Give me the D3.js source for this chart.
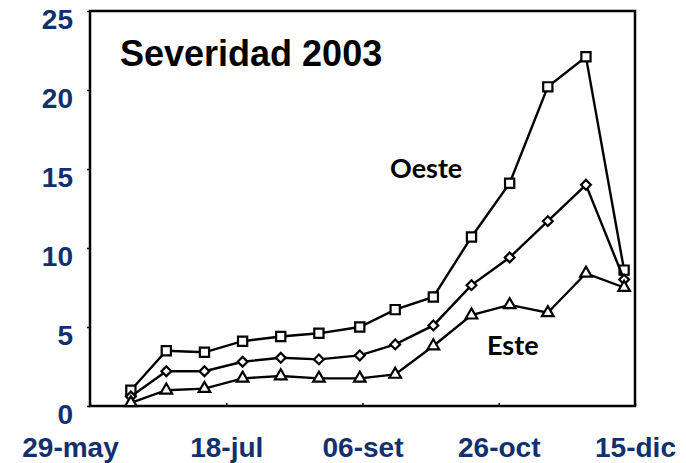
<!DOCTYPE html>
<html>
<head>
<meta charset="utf-8">
<script src="https://cdn.jsdelivr.net/npm/d3@7"></script>
<style>
  body { margin: 0; background: #fff; }
  svg { display: block; }
</style>
</head>
<body>
<svg></svg>
<script>
// Sampling dates (2003) and severity per zone
const dates = ["2003-06-13", "2003-06-26", "2003-07-10", "2003-07-24", "2003-08-07", "2003-08-21", "2003-09-05",
    "2003-09-18", "2003-10-02", "2003-10-16", "2003-10-30", "2003-11-13", "2003-11-27", "2003-12-11"];
const oeste = [1.0, 3.5, 3.4, 4.1, 4.4, 4.6, 5.0, 6.1, 6.9, 10.7, 14.1, 20.2, 22.1, 8.6];
const medio = [0.6, 2.2, 2.2, 2.8, 3.05, 2.95, 3.2, 3.9, 5.1, 7.65, 9.4, 11.7, 14.0, 8.0];
const este = [0.2, 1.0, 1.1, 1.75, 1.9, 1.75, 1.75, 2.0, 3.8, 5.75, 6.4, 5.9, 8.4, 7.5];

const yTicks = [0, 5, 10, 15, 20, 25];
const xTickDates = ["2003-05-29", "2003-07-18", "2003-09-06", "2003-10-26", "2003-12-15"];
const xTickLabels = ["29-may", "18-jul", "06-set", "26-oct", "15-dic"];

const parse = d3.utcParse("%Y-%m-%d");
const navy = "#10306e";

const svg = d3.select("svg").attr("width", 686).attr("height", 463),
    margin = { top: 11, right: 51, bottom: 57, left: 90 },
    width = 686 - margin.left - margin.right,
    height = 463 - margin.top - margin.bottom,
    g = svg.append("g").attr("transform", `translate(${margin.left},${margin.top})`);

const x = d3.scaleUtc().domain([parse(xTickDates[0]), parse(xTickDates[xTickDates.length - 1])]).range([0, width]);
const y = d3.scaleLinear().domain([0, 25]).range([height, 0]);

// Y axis
const yAxis = g.append("g")
    .call(d3.axisLeft(y).tickValues(yTicks).tickSize(3).tickPadding(14));
yAxis.select(".domain").remove();
yAxis.selectAll("line").attr("stroke", "#000").attr("stroke-width", 1.5);
yAxis.selectAll("text")
    .attr("dy", "0.61em")
    .attr("fill", navy)
    .style("font-family", "Arial, 'Liberation Sans', sans-serif")
    .style("font-weight", "bold")
    .style("font-size", "28px");

// X axis
const xAxis = g.append("g")
    .attr("transform", `translate(0,${height})`)
    .call(d3.axisBottom(x).tickValues(xTickDates.map(parse))
        .tickFormat((d, i) => xTickLabels[i]).tickSizeInner(-3).tickSizeOuter(0).tickPadding(31));
xAxis.select(".domain").remove();
xAxis.selectAll("line").attr("stroke", "#000").attr("stroke-width", 1.5);
xAxis.selectAll("text")
    .attr("dx", (d, i) => i === 0 ? -20 : 0)
    .attr("fill", navy)
    .style("font-family", "Arial, 'Liberation Sans', sans-serif")
    .style("font-weight", "bold")
    .style("font-size", "28px");

// Plot frame
g.append("rect")
    .attr("width", width).attr("height", height)
    .attr("fill", "none").attr("stroke", "#000").attr("stroke-width", 2.5);

// Series
const series = [
    { values: oeste, symbol: d3.symbolSquare, size: 85, rotate: 0 },
    { values: medio, symbol: d3.symbolSquare, size: 48, rotate: 45 },
    { values: este, symbol: d3.symbolTriangle, size: 58, rotate: 0 }
];

const line = d3.line()
    .x((d, i) => x(parse(dates[i])))
    .y(d => y(d));

series.forEach(s => {
    g.append("path")
        .datum(s.values)
        .attr("d", line)
        .attr("fill", "none")
        .attr("stroke", "#000")
        .attr("stroke-width", 2.4);

    g.selectAll(null)
        .data(s.values)
        .join("path")
        .attr("d", d3.symbol().type(s.symbol).size(s.size))
        .attr("transform", (d, i) => `translate(${x(parse(dates[i]))},${y(d)}) rotate(${s.rotate})`)
        .attr("fill", "#fff")
        .attr("stroke", "#000")
        .attr("stroke-width", 2.2);
});

// Title and zone labels
g.append("text")
    .attr("x", 30).attr("y", 55)
    .style("font-family", "Arial, 'Liberation Sans', sans-serif")
    .style("font-weight", "bold")
    .style("font-size", "36px")
    .attr("fill", "#000")
    .text("Severidad 2003");

g.append("text")
    .attr("x", 300).attr("y", 167)
    .style("font-family", "Lato, 'Open Sans', sans-serif")
    .style("font-weight", "bold")
    .style("font-size", "27px")
    .attr("fill", "#000")
    .text("Oeste");

g.append("text")
    .attr("x", 397).attr("y", 344)
    .style("font-family", "Lato, 'Open Sans', sans-serif")
    .style("font-weight", "bold")
    .style("font-size", "27px")
    .attr("fill", "#000")
    .text("Este");
</script>
</body>
</html>
